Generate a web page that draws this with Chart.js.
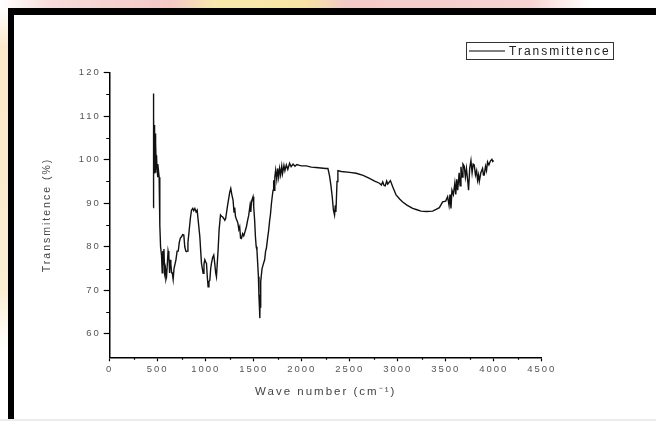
<!DOCTYPE html>
<html>
<head>
<meta charset="utf-8">
<script src="https://cdn.jsdelivr.net/npm/chart.js@4.4.1/dist/chart.umd.min.js"></script>
<style>
  html, body { margin: 0; padding: 0; background: #fff; }
  #page { position: relative; width: 656px; height: 421px; overflow: hidden; background: #fff; }
  #wmTop { position: absolute; left: 0; top: 0; width: 656px; height: 8px;
    background: linear-gradient(to right, #fff 0, #f8dcdb 50px, #f4c8c6 170px, #f8e7ae 215px, #f8e4a4 305px, #f4cac7 345px, #f6d3d1 530px, #fff 590px); }
  #wmLeft { position: absolute; left: 0; top: 8px; width: 8px; height: 413px;
    background: linear-gradient(to bottom, #fff 0, #fbe8c8 40px, #fbeed2 280px, #fff 340px); }
  #frame { position: absolute; left: 8px; top: 8px; right: 0; bottom: 2px;
    border-top: 7px solid #000; border-left: 6px solid #000; }
  #foot { position: absolute; left: 0; bottom: 0; width: 656px; height: 2px; background: #ececec; }
  #chart { position: absolute; left: 0; top: 0; }
</style>
</head>
<body>
<div id="page">
  <div id="wmTop"></div>
  <div id="wmLeft"></div>
  <div id="frame"></div>
  <div id="foot"></div>
  <canvas id="chart" width="656" height="421"></canvas>
</div>
<script>
// values (wave number in cm-1, transmittance in %)
const waveNumbers = [
  453, 454, 457, 460, 463, 466, 469, 472, 476, 480, 484, 488, 493, 498, 503, 508, 515,
  522, 530, 540, 547, 553, 559, 565, 572, 580, 586, 592, 600, 608, 616, 624, 630, 637,
  645, 652, 661, 670, 679, 690, 702, 714, 725, 736, 748, 760, 772, 782, 793, 800, 807,
  815, 828, 840, 852, 865, 875, 887, 900, 911, 922, 939, 948, 956, 965, 973, 982, 991,
  1000, 1008, 1017, 1025, 1034, 1043, 1052, 1060, 1072, 1084, 1095, 1104, 1112, 1120,
  1129, 1140, 1154, 1165, 1175, 1188, 1199, 1208, 1216, 1228, 1240, 1250, 1261, 1272,
  1285, 1295, 1302, 1310, 1320, 1335, 1345, 1354, 1363, 1372, 1385, 1396, 1410, 1424,
  1436, 1448, 1462, 1470, 1476, 1485, 1493, 1500, 1510, 1518, 1526, 1534, 1542, 1549,
  1555, 1560, 1564, 1567, 1570, 1576, 1587, 1600, 1614, 1624, 1632, 1645, 1656, 1666,
  1674, 1685, 1695, 1702, 1708, 1715, 1720, 1729, 1740, 1750, 1760, 1770, 1780, 1792,
  1800, 1815, 1825, 1840, 1855, 1874, 1890, 1910, 1930, 1950, 1978, 2000, 2047, 2100,
  2150, 2200, 2250, 2273, 2290, 2305, 2318, 2330, 2342, 2350, 2356, 2360, 2368, 2377,
  2412, 2500, 2568, 2640, 2706, 2760, 2810, 2830, 2844, 2858, 2870, 2885, 2896, 2910,
  2924, 2948, 2983, 3020, 3052, 3100, 3156, 3200, 3243, 3300, 3364, 3400, 3434, 3468,
  3500, 3520, 3535, 3545, 3555, 3565, 3580, 3595, 3605, 3615, 3625, 3640, 3650, 3659,
  3670, 3680, 3693, 3705, 3716, 3730, 3738, 3750, 3763, 3775, 3786, 3797, 3810, 3822,
  3832, 3842, 3850, 3866, 3884, 3893, 3901, 3915, 3925, 3936, 3950, 3965, 3981, 3990, 4000
];
const transmittance = [
  89.0, 115.2, 99, 110, 97, 108, 98, 106, 97, 104, 99, 101, 98, 99, 96, 97.5, 96,
  85, 80, 78, 74, 79, 76, 79.5, 74, 75, 72.5, 73, 76, 79, 78, 74, 77, 76,
  74, 74, 72.5, 75, 75, 77, 79, 79, 81, 82, 82.3, 82.8, 82.7, 80, 79, 78.9, 79,
  81, 83.8, 86.5, 88.4, 88.8, 88.3, 88.8, 88, 88.4, 86, 82.3, 79, 76.2, 75, 73.9, 76, 77,
  76.5, 76.2, 73, 70.8, 72, 72.3, 75, 76.2, 77.5, 78.1, 76, 74, 73.1, 76,
  79.2, 84, 87.3, 87, 86.9, 86.5, 86.1, 86.5, 87.7, 89.5, 91.1, 92.5, 93.4, 92,
  90.7, 88, 89, 87, 86.3, 85.5, 84, 84.6, 82, 81.9, 83, 82.5, 83.5, 84.6,
  86, 87.2, 89.5, 88, 90.3, 91, 91.5, 89.2, 86, 82.3, 80, 79.2, 76, 73.1,
  68.5, 66, 63.6, 69, 66, 72, 75, 76, 77, 79, 79.6, 82, 83.8, 86,
  87.3, 90, 91.9, 93, 95.3, 93, 96, 97.6, 95.5, 98, 96, 98, 96.5, 98.5,
  96.8, 98.7, 97.5, 98.8, 97.8, 99.2, 98.4, 99, 98.5, 98.9, 98.7, 98.6, 98.6, 98.3,
  98.2, 98.1, 98.0, 98.0, 96.3, 94, 91.5, 88.5, 87.3, 89.5, 88, 90, 95, 97.5,
  97.3, 97.1, 96.9, 96.4, 95.7, 95.1, 94.6, 94.2, 94.9, 94.1, 94.0, 95.1, 94.4, 94.8,
  95.2, 93.8, 91.9, 91, 90.3, 89.5, 88.8, 88.5, 88.2, 88.1, 88.2, 88.6, 89, 90.3,
  90.5, 91.5, 89.5, 92, 88.8, 93, 92, 94.6, 92, 95.5, 93, 97, 94, 98.4,
  96, 99, 98.5, 96, 98, 95, 93, 98, 99.8, 97, 99, 98.8, 96.5, 97.5,
  95.3, 96.5, 95, 97, 98, 96.5, 96.5, 98.5, 97.5, 99.5, 98.8, 99.7, 100.1, 99.6, 99.8
];
const xTicks = [0, 500, 1000, 1500, 2000, 2500, 3000, 3500, 4000, 4500];
const yTicks = [60, 70, 80, 90, 100, 110, 120];
const xMinorTicks = [250, 750, 1250, 1750, 2250, 2750, 3250, 3750, 4250];
const yMinorTicks = [65, 75, 85, 95, 105, 115];
const seriesLabel = 'Transmittence';

const points = waveNumbers.map((w, i) => ({x: w, y: transmittance[i]}));

// canvas letter spacing (the original text is spread out)
const spacingPlugin = {
    id: 'spacing',
    beforeUpdate(chart) { chart.ctx.letterSpacing = '2px'; },
    beforeDraw(chart) { chart.ctx.letterSpacing = '2px'; }
};

// short minor ticks and the boxed legend
const extrasPlugin = {
    id: 'extras',
    afterDraw(chart) {
        const ctx = chart.ctx;
        const area = chart.chartArea;
        const xs = chart.scales.x;
        const ys = chart.scales.y;
        ctx.save();
        ctx.strokeStyle = '#000';
        ctx.lineWidth = 1.2;
        ctx.beginPath();
        xMinorTicks.forEach(v => {
            const px = Math.round(xs.getPixelForValue(v)) + 0.5;
            ctx.moveTo(px, area.bottom);
            ctx.lineTo(px, area.bottom + 2.5);
        });
        yMinorTicks.forEach(v => {
            const py = Math.round(ys.getPixelForValue(v)) + 0.5;
            ctx.moveTo(area.left, py);
            ctx.lineTo(area.left - 3.5, py);
        });
        ctx.stroke();

        // legend
        ctx.lineWidth = 1;
        ctx.strokeStyle = '#333';
        ctx.strokeRect(466.5, 42.5, 147, 17);
        ctx.lineWidth = 1.2;
        ctx.strokeStyle = '#000';
        ctx.beginPath();
        ctx.moveTo(469, 51);
        ctx.lineTo(505, 51);
        ctx.stroke();
        ctx.letterSpacing = '2px';
        ctx.fillStyle = '#222';
        ctx.font = '12px "Liberation Sans", Arial, sans-serif';
        ctx.textBaseline = 'middle';
        ctx.textAlign = 'left';
        ctx.fillText(chart.data.datasets[0].label, 509, 51.5);
        ctx.restore();
    }
};

const tickFont = {family: '"Liberation Sans", Arial, sans-serif', size: 9.5};
const titleFont = {family: '"Liberation Sans", Arial, sans-serif', size: 11};

new Chart(document.getElementById('chart'), {
    type: 'line',
    data: {
        datasets: [{
            label: seriesLabel,
            data: points,
            borderColor: '#111',
            borderWidth: 1.4,
            pointRadius: 0,
            tension: 0,
            fill: false
        }]
    },
    options: {
        responsive: false,
        animation: false,
        parsing: false,
        layout: {
            padding: {left: 40.4, right: 114.3, top: 72.7, bottom: 22.4}
        },
        plugins: {
            legend: {display: false},
            tooltip: {enabled: false}
        },
        scales: {
            x: {
                type: 'linear',
                min: 0,
                max: 4500,
                afterBuildTicks: s => { s.ticks = xTicks.map(v => ({value: v})); },
                afterFit: s => { s.height = 41.3; },
                ticks: {
                    autoSkip: false,
                    maxRotation: 0,
                    padding: 2,
                    color: '#555',
                    font: tickFont,
                    callback: v => String(v)
                },
                grid: {
                    drawOnChartArea: false,
                    drawTicks: true,
                    tickLength: 4,
                    tickWidth: 1.2,
                    tickColor: '#000'
                },
                border: {color: '#000', width: 1.5},
                title: {
                    display: true,
                    text: 'Wave number (cm\u207B\u00B9)',
                    color: '#444',
                    font: {family: titleFont.family, size: 11.5},
                    padding: 0
                }
            },
            y: {
                type: 'linear',
                min: 54.6,
                max: 120,
                afterBuildTicks: s => { s.ticks = yTicks.map(v => ({value: v})); },
                afterFit: s => { s.width = 69.3; },
                ticks: {
                    autoSkip: false,
                    padding: 3,
                    color: '#555',
                    font: tickFont,
                    callback: v => String(v)
                },
                grid: {
                    drawOnChartArea: false,
                    drawTicks: true,
                    tickLength: 6,
                    tickWidth: 1.2,
                    tickColor: '#000'
                },
                border: {color: '#000', width: 1.5},
                title: {
                    display: true,
                    text: 'Transmitence (%)',
                    color: '#444',
                    font: {family: titleFont.family, size: 10.5},
                    padding: 0
                }
            }
        }
    },
    plugins: [spacingPlugin, extrasPlugin]
});
</script>
</body>
</html>
